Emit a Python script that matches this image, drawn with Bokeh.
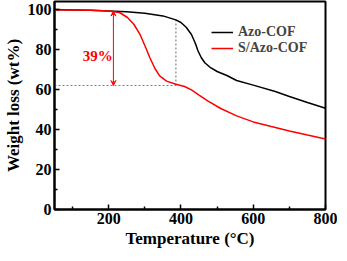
from bokeh.plotting import figure
from bokeh.models import FixedTicker, Arrow, VeeHead, Legend, LegendItem, Range1d
from bokeh.core.properties import value
from bokeh.embed import file_html
from bokeh.resources import INLINE

# Data
azo_T = [50, 100, 150, 200, 250, 300, 350, 386, 400, 415, 429, 440, 447, 456, 466, 482, 500, 527, 554, 600, 661, 700, 750, 800]
azo_W = [100, 99.8, 99.6, 99.3, 98.9, 98.1, 96.8, 94.8, 93.5, 91.0, 87.5, 83.0, 79.4, 76.0, 73.4, 70.9, 69.0, 67.0, 64.5, 62.2, 59.0, 56.5, 53.5, 50.6]
s_T = [50, 100, 150, 200, 230, 252, 270, 287, 300, 314, 328, 341, 360, 386, 410, 429, 450, 474, 510, 554, 600, 650, 700, 750, 800]
s_W = [99.8, 99.7, 99.6, 99.2, 98.5, 96.0, 92.5, 87.4, 82.0, 75.9, 70.5, 66.8, 64.2, 62.6, 61.5, 59.8, 57.2, 54.3, 50.5, 46.8, 43.8, 41.5, 39.3, 37.2, 35.2]

onset_T = 386
start_W = 99.2
residual_W = 62
arrow_T = 213
loss_label = "39%"
label_T = 170
label_W = 77

series_names = ["Azo-COF", "S/Azo-COF"]
x_ticks = [200, 400, 600, 800]
x_minor = [100, 300, 500, 700]
y_ticks = [0, 20, 40, 60, 80, 100]
y_minor = [10, 30, 50, 70, 90]

FONT = "Liberation Serif"

p = figure(width=337, height=250, output_backend="svg", toolbar_location=None,
           x_range=Range1d(50, 800), y_range=Range1d(0, 104),
           min_border_left=0, min_border_right=12, min_border_top=1, min_border_bottom=0)

p.grid.visible = False
p.outline_line_color = "black"
p.outline_line_width = 2
p.background_fill_color = "white"

for ax in (p.xaxis[0], p.yaxis[0]):
    ax.axis_line_width = 2
    ax.major_tick_in = 5
    ax.major_tick_out = 0
    ax.minor_tick_in = 3
    ax.minor_tick_out = 0
    ax.major_tick_line_width = 1.5
    ax.minor_tick_line_width = 1.5
    ax.major_label_text_font = FONT
    ax.major_label_text_font_style = "bold"
    ax.major_label_text_font_size = "16px"
    ax.axis_label_text_font = FONT
    ax.axis_label_text_font_style = "bold"
    ax.axis_label_text_font_size = "17px"
    ax.major_label_text_color = "black"
    ax.axis_label_text_color = "black"

p.xaxis.ticker = FixedTicker(ticks=x_ticks, minor_ticks=x_minor)
p.yaxis.ticker = FixedTicker(ticks=y_ticks, minor_ticks=y_minor)
p.xaxis.axis_label = "Temperature (°C)"
p.yaxis.axis_label = "Weight loss (wt%)"
p.xaxis.major_label_standoff = 3
p.yaxis.major_label_standoff = 3
p.xaxis.axis_label_standoff = 2
p.yaxis.axis_label_standoff = 2

# guide lines
p.line([50, onset_T], [residual_W, residual_W], line_color="gray", line_dash="2 2", line_width=1.2)
p.line([onset_T, onset_T], [residual_W, 94.8], line_color="gray", line_dash="2 2", line_width=1.2)

r1 = p.line(azo_T, azo_W, line_color="black", line_width=1.5)
r2 = p.line(s_T, s_W, line_color="red", line_width=1.5)

p.add_layout(Arrow(x_start=arrow_T, y_start=residual_W, x_end=arrow_T, y_end=start_W,
                   line_color="red", line_width=1,
                   start=VeeHead(size=5, line_color="red", fill_color="red"),
                   end=VeeHead(size=5, line_color="red", fill_color="red")))
p.text(x=[label_T], y=[label_W], text=[loss_label], text_color="red",
       text_font=value(FONT), text_font_style="bold", text_font_size="15px",
       text_align="center", text_baseline="middle")

legend = Legend(items=[LegendItem(label=series_names[0], renderers=[r1]),
                       LegendItem(label=series_names[1], renderers=[r2])],
                location=(155, 151), border_line_alpha=0, background_fill_alpha=0,
                label_text_font=FONT, label_text_font_style="bold", label_text_font_size="14px",
                glyph_width=22, glyph_height=14, label_height=14, label_standoff=5,
                spacing=-2, padding=2, margin=0)
p.add_layout(legend, "center")

open("out.html", "w").write(file_html(p, INLINE))
